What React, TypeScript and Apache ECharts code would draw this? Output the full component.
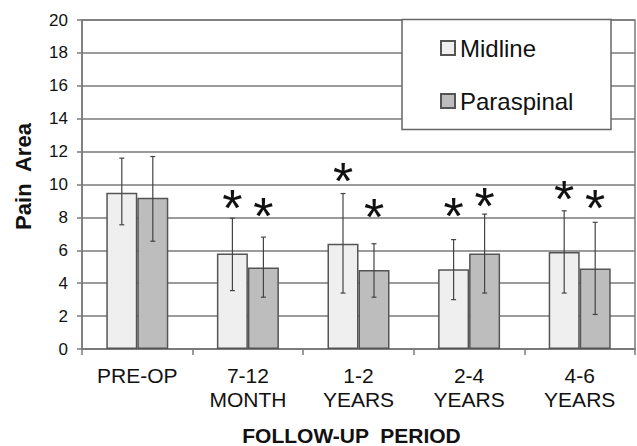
import React, { useEffect, useRef } from "react";
import * as echarts from "echarts";

const categories = ["PRE-OP", "7-12\nMONTH", "1-2\nYEARS", "2-4\nYEARS", "4-6\nYEARS"];
const midline = [9.5, 5.8, 6.4, 4.85, 5.9];
const midlineErrLow = [7.55, 3.55, 3.4, 3.0, 3.4];
const midlineErrHigh = [11.6, 7.95, 9.45, 6.65, 8.4];
const paraspinal = [9.2, 4.95, 4.8, 5.8, 4.9];
const paraErrLow = [6.55, 3.15, 3.15, 3.4, 2.1];
const paraErrHigh = [11.7, 6.8, 6.4, 8.2, 7.7];
// asterisk positions (data units); null = no asterisk
const midlineStars = [null, 9.2, 10.8, 8.7, 9.7];
const paraStars = [null, 8.7, 8.65, 9.3, 9.15];
const yTicks = { min: 0, max: 20, interval: 2 };

const FONT = "Liberation Sans, Arial, sans-serif";
const BAR_W = 31;

function errorSeries(low: number[], high: number[], offset: number) {
  return {
    type: "custom",
    data: low.map((l, i) => [i, l, high[i]]),
    z: 5,
    silent: true,
    renderItem: (params: any, api: any) => {
      const i = api.value(0);
      const pLow = api.coord([i, api.value(1)]);
      const pHigh = api.coord([i, api.value(2)]);
      const x = pLow[0] + offset;
      const cap = 2.5;
      const style = { stroke: "#444", lineWidth: 1.2 };
      return {
        type: "group",
        children: [
          { type: "line", shape: { x1: x, y1: pLow[1], x2: x, y2: pHigh[1] }, style },
          { type: "line", shape: { x1: x - cap, y1: pLow[1], x2: x + cap, y2: pLow[1] }, style },
          { type: "line", shape: { x1: x - cap, y1: pHigh[1], x2: x + cap, y2: pHigh[1] }, style },
        ],
      };
    },
  };
}

function starSeries(stars: (number | null)[], offset: number) {
  return {
    type: "custom",
    data: stars.map((s, i) => [i, s == null ? NaN : s]),
    z: 6,
    silent: true,
    renderItem: (params: any, api: any) => {
      const v = api.value(1);
      if (isNaN(v)) return null;
      const p = api.coord([api.value(0), v]);
      return {
        type: "text",
        x: p[0] + offset,
        y: p[1] + 10,
        style: {
          text: "*",
          fontSize: 52,
          fontFamily: FONT,
          fill: "#111",
          align: "center",
          verticalAlign: "middle",
        },
      };
    },
  };
}

export default function App() {
  const ref = useRef<HTMLDivElement>(null);
  useEffect(() => {
    if (!ref.current) return;
    const chart = echarts.init(ref.current, undefined, { renderer: "svg" });
    chart.setOption({
      animation: false,
      backgroundColor: "#fff",
      textStyle: { fontFamily: FONT },
      grid: {
        left: 82,
        top: 20,
        width: 553,
        height: 329,
        outerBoundsMode: "none",
        containLabel: false,
        show: true,
        borderColor: "#7a7a7a",
        borderWidth: 1.5,
        backgroundColor: "transparent",
      },
      legend: {
        orient: "vertical",
        left: 440,
        top: 36,
        padding: 0,
        itemWidth: 14,
        itemHeight: 14,
        itemGap: 29,
        icon: "rect",
        z: 20,
        textStyle: { fontSize: 24, color: "#111", fontFamily: FONT },
        data: ["Midline", "Paraspinal"],
      },
      graphic: [
        {
          type: "rect",
          z: 10,
          shape: { x: 402, y: 19.5, width: 209, height: 110 },
          style: { fill: "#fff", stroke: "#666", lineWidth: 1.5 },
        },
      ],
      xAxis: {
        type: "category",
        data: categories,
        name: "FOLLOW-UP  PERIOD",
        nameLocation: "middle",
        nameGap: 76,
        nameTextStyle: {
          fontSize: 21,
          fontWeight: "bold",
          color: "#111",
          fontFamily: FONT,
          padding: [0, 14, 0, 0],
        },
        axisLine: { lineStyle: { color: "#7a7a7a", width: 1.5 } },
        axisTick: { show: true, length: 6, lineStyle: { color: "#7a7a7a", width: 1.5 } },
        axisLabel: {
          fontSize: 21,
          lineHeight: 24,
          color: "#111",
          margin: 14,
          fontFamily: FONT,
        },
      },
      yAxis: {
        type: "value",
        min: yTicks.min,
        max: yTicks.max,
        interval: yTicks.interval,
        name: "Pain  Area",
        nameLocation: "middle",
        nameGap: 48,
        nameTextStyle: {
          fontSize: 22,
          fontWeight: "bold",
          color: "#111",
          fontFamily: FONT,
          padding: [0, 0, 0, 16],
        },
        axisLine: { show: true, lineStyle: { color: "#7a7a7a", width: 1.5 } },
        axisTick: { show: true, length: 5, lineStyle: { color: "#7a7a7a", width: 1.5 } },
        axisLabel: { fontSize: 17, color: "#111", margin: 14, fontFamily: FONT },
        splitLine: { show: true, lineStyle: { color: "#7a7a7a", width: 1.5 } },
      },
      series: [
        {
          name: "Midline",
          type: "bar",
          data: midline,
          barWidth: BAR_W,
          barGap: "0%",
          itemStyle: { color: "#efefef", borderColor: "#555", borderWidth: 1.5 },
        },
        {
          name: "Paraspinal",
          type: "bar",
          data: paraspinal,
          barWidth: BAR_W,
          barGap: "0%",
          itemStyle: { color: "#bdbdbd", borderColor: "#555", borderWidth: 1.5 },
        },
        errorSeries(midlineErrLow, midlineErrHigh, -BAR_W / 2),
        errorSeries(paraErrLow, paraErrHigh, BAR_W / 2),
        starSeries(midlineStars, -BAR_W / 2),
        starSeries(paraStars, BAR_W / 2),
      ],
    });
    return () => chart.dispose();
  }, []);
  return (
    <div
      ref={ref}
      style={{ position: "absolute", left: 0, top: 0, width: 637, height: 446 }}
    />
  );
}
